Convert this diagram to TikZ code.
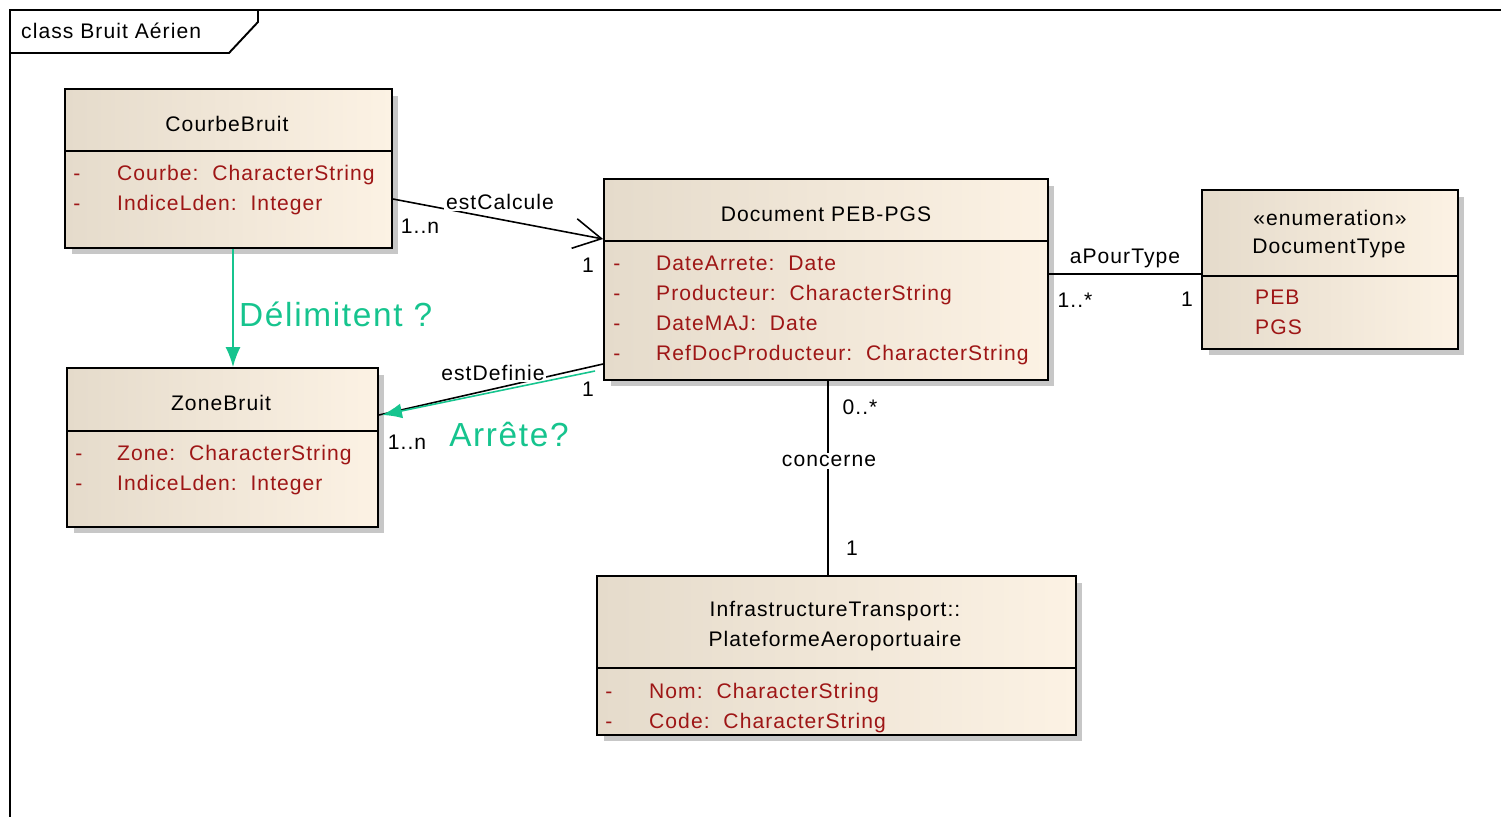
\documentclass[tikz,border=0pt]{standalone}
\usepackage{fontspec}
\setmainfont{Liberation Sans}[LetterSpace=5]
\usetikzlibrary{positioning}
\usetikzlibrary{calc}
\usetikzlibrary{arrows.meta,shadows}

\definecolor{fondG}{RGB}{229,219,203}
\definecolor{fondD}{RGB}{252,242,228}
\definecolor{rougeAttr}{RGB}{158,22,22}
\definecolor{vertNote}{RGB}{22,196,142}

\tikzset{
  classe/.style={draw=black, line width=1.1pt, left color=fondG, right color=fondD,
    general shadow={fill=black!22, shadow xshift=0.13cm, shadow yshift=-0.13cm},
    inner sep=0pt},
  titre/.style={font=\fontsize{12}{14}\selectfont},
  attrib/.style={font=\fontsize{12}{14}\selectfont, text=rougeAttr, anchor=base west},
  tiret/.style={font=\fontsize{12}{14}\selectfont, text=rougeAttr, anchor=base},
  mult/.style={font=\fontsize{12}{14}\selectfont},
  role/.style={font=\fontsize{12}{14}\selectfont, fill=white, inner sep=1pt},
  lien/.style={line width=0.9pt},
  note/.style={text=vertNote, font=\fontsize{19}{22}\selectfont},
  fleche/.style={vertNote, line width=0.9pt, -{Latex[length=4mm,width=3mm]}}
}

\begin{document}
\begin{tikzpicture}[x=0.02cm,y=-0.02cm]
\useasboundingbox (0,0) rectangle (1501,817);

% cadre du diagramme
\draw[line width=1.1pt] (10,817) -- (10,10) -- (1501,10);
\draw[line width=1.1pt] (10,53) -- (229,53) -- (258,22) -- (258,10);
\node[titre, anchor=west] (cadre) at (15,31) {class Bruit Aérien};

% classes
\node[classe, minimum width=6.54cm, minimum height=3.18cm] (cb) at (228.5,168.5) {};
\node[classe, minimum width=6.22cm, minimum height=3.18cm] (zb) at (222.5,447.5) {};
\node[classe, minimum width=8.88cm, minimum height=4.02cm] (doc) at (826,279.5) {};
\node[classe, minimum width=5.12cm, minimum height=3.18cm] (dt) at (1330,269.5) {};
\node[classe, minimum width=9.58cm, minimum height=3.18cm] (pf) at (836.5,655.5) {};

\draw[line width=1.1pt] (cb.west |- 0,151) -- (cb.east |- 0,151);
\draw[line width=1.1pt] (zb.west |- 0,431) -- (zb.east |- 0,431);
\draw[line width=1.1pt] (doc.west |- 0,241) -- (doc.east |- 0,241);
\draw[line width=1.1pt] (dt.west |- 0,276) -- (dt.east |- 0,276);
\draw[line width=1.1pt] (pf.west |- 0,668) -- (pf.east |- 0,668);

% noms
\node[titre] (cbNom) at (227,124) {CourbeBruit};
\node[titre] (zbNom) at (221,403) {ZoneBruit};
\node[titre] (docNom) at (826,214) {Document PEB-PGS};
\node[titre] (dtSt) at (1330,218) {«enumeration»};
\node[titre] (dtNom) at (1329,248) {DocumentType};
\node[titre] (pfPkg) at (835,611) {InfrastructureTransport::};
\node[titre] (pfNom) at (835,641) {PlateformeAeroportuaire};

% attributs
\foreach \y/\t [count=\i] in {181/Courbe:\ \ CharacterString, 211/IndiceLden:\ \ Integer} {
  \node[tiret] (cbT\i) at (77,\y) {-};
  \node[attrib] (cbA\i) at (111,\y) {\t};
}
\foreach \y/\t [count=\i] in {460/Zone:\ \ CharacterString, 490/IndiceLden:\ \ Integer} {
  \node[tiret] (zbT\i) at (79,\y) {-};
  \node[attrib] (zbA\i) at (111,\y) {\t};
}
\foreach \y/\t [count=\i] in {271/DateArrete:\ \ Date, 301/Producteur:\ \ CharacterString,
                              331/DateMAJ:\ \ Date, 361/RefDocProducteur:\ \ CharacterString} {
  \node[tiret] (docT\i) at (617,\y) {-};
  \node[attrib] (docA\i) at (650,\y) {\t};
}
\foreach \y/\t [count=\i] in {305/PEB, 335/PGS}
  \node[attrib] (dtV\i) at (1249,\y) {\t};
\foreach \y/\t [count=\i] in {698/Nom:\ \ CharacterString, 728/Code:\ \ CharacterString} {
  \node[tiret] (pfT\i) at (609,\y) {-};
  \node[attrib] (pfA\i) at (643,\y) {\t};
}

% associations
\draw[lien, -{Straight Barb[length=5.5mm,width=6mm]}] (cb.east |- 0,199) -- (doc.west |- 0,239);
\node[role] (rCalc) at (500,202) {estCalcule};
\draw[lien] (doc.west |- 0,364) -- (zb.east |- 0,415);
\node[role] (rDef) at (493,373) {estDefinie};
\draw[lien] (doc.east |- 0,274) -- (dt.west |- 0,274);
\node[role] (rType) at (1125,258) {aPourType};
\draw[lien] (doc.south -| 828,0) -- (pf.north -| 828,0);
\node[role] (rConc) at (829,461) {concerne};

% multiplicites
\node[mult] (m1) at (420,226) {1..n};
\node[mult] (m2) at (588,265) {1};
\node[mult] (m3) at (588,389) {1};
\node[mult] (m4) at (407,442) {1..n};
\node[mult] (m5) at (1075,300) {1..*};
\node[mult] (m6) at (1187,299) {1};
\node[mult] (m7) at (860,407) {0..*};
\node[mult] (m8) at (852,548) {1};

% annotations
\draw[fleche] (cb.south -| 233,0) -- (zb.north -| 233,0);
\node[note, anchor=west] (nDel) at (233,314) {Délimitent ?};
\draw[fleche] ($(doc.west |- 0,371)+(-8,0)$) -- ($(zb.east |- 0,415)+(3,0)$);
\node[note] (nArr) at (509,435) {Arrête?};

\end{tikzpicture}
\end{document}
